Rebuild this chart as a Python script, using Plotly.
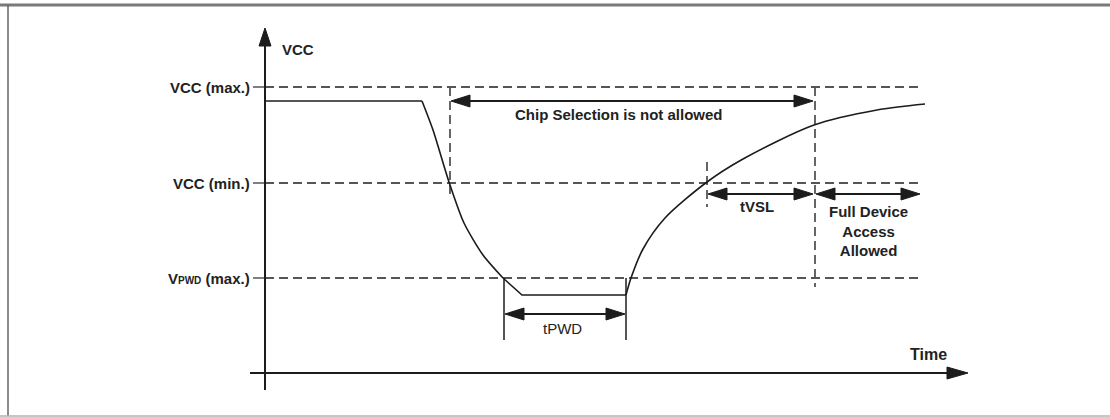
import plotly.graph_objects as go

# ---------------- data (diagram units: time t, voltage v; origin at axes crossing) ----------------
level_names = ["VCC (max.)", "VCC (min.)", "V<span style='font-size:10px'>PWD</span> (max.)"]
level_values = [286, 190, 95]

# supply waveform pieces
steady_t = [0, 157]
steady_v = [272, 272]
fall_t = [157, 168, 184, 199, 218, 238]
fall_v = [272, 243, 191, 150, 118, 95]
floor_t = [238, 257, 361]
floor_v = [95, 78, 78]
rise_t = [361, 366, 378, 400, 442, 478, 549, 612, 660]
rise_v = [78, 95, 124, 155, 191, 214, 248, 263, 269]

# timing markers
t_fall_cross = 185
t_vsl_start = 442
t_access = 550
t_pwd_start = 239
t_pwd_end = 361
t_full_end = 655
t_level_end = 658

arrow_labels = ["Chip Selection is not allowed", "tVSL", "Full Device<br>Access<br>Allowed", "tPWD"]

# ---------------- figure ----------------
INK = "#1c1c1c"
DASH = "#555555"
FONT = "Liberation Sans"
fig = go.Figure()

def seg(x, y, color=INK, width=1.5, dash=None, shape="linear", smoothing=0.8):
    fig.add_trace(go.Scatter(x=x, y=y, mode="lines", hoverinfo="skip", showlegend=False,
                             line=dict(color=color, width=width, dash=dash, shape=shape,
                                       smoothing=smoothing)))

def head(tx, ty, direction, L=19, H=6):
    # filled triangle arrow head with tip at (tx, ty)
    if direction == "right":
        xs, ys = [tx, tx - L, tx - L, tx], [ty, ty + H, ty - H, ty]
    elif direction == "left":
        xs, ys = [tx, tx + L, tx + L, tx], [ty, ty + H, ty - H, ty]
    else:  # up
        xs, ys = [tx, tx - H, tx + H, tx], [ty, ty - L, ty - L, ty]
    fig.add_trace(go.Scatter(x=xs, y=ys, mode="lines", fill="toself", fillcolor=INK,
                             line=dict(color=INK, width=1), hoverinfo="skip", showlegend=False))

def double_arrow(t0, t1, v, width=2):
    seg([t0 + 4, t1 - 4], [v, v], width=width)
    head(t0, v, "left")
    head(t1, v, "right")

# level dashed lines + ticks
for v in level_values:
    seg([-12, 0], [v, v], color=DASH, width=1.5)
    seg([0, t_level_end], [v, v], color=DASH, width=1.8, dash="9px,5px")

# vertical dashed markers
vmax, vmin, vpwd = level_values
seg([t_fall_cross, t_fall_cross], [vmax, vmin - 12], color=DASH, width=1.8, dash="9px,5px")
seg([t_vsl_start, t_vsl_start], [vmin + 21, vmin - 24], color=DASH, width=1.8, dash="9px,5px")
seg([t_access, t_access], [vmax, vpwd - 9], color=DASH, width=1.8, dash="9px,5px")

# tPWD solid verticals
seg([t_pwd_start, t_pwd_start], [vpwd, vpwd - 62], width=1.5)
seg([t_pwd_end, t_pwd_end], [vpwd, vpwd - 62], width=1.5)

# waveform
seg(steady_t, steady_v, width=1.6)
seg(fall_t, fall_v, width=1.6, shape="spline", smoothing=0.7)
seg(floor_t, floor_v, width=1.6)
seg(rise_t, rise_v, width=1.6, shape="spline", smoothing=0.8)

# axes
seg([0, 0], [-17, 330], width=2)
head(0, 345, "up", L=18)
seg([-15, 685], [0, 0], width=2)
head(703, 0, "right", L=21, H=6)

# dimension arrows
double_arrow(t_fall_cross + 1, t_access - 2, steady_v[0])
double_arrow(t_vsl_start + 1, t_access - 2, vmin - 11)
double_arrow(t_access + 1, t_full_end, vmin - 11)
double_arrow(t_pwd_start + 1, t_pwd_end - 1, vpwd - 36)

# text
def label(x, y, text, anchor="center", size=15, bold=True):
    fig.add_annotation(x=x, y=y, text=f"<b>{text}</b>" if bold else text, showarrow=False,
                       xanchor=anchor, yanchor="middle",
                       font=dict(family=FONT, size=size, color="#222222"))

for name, v in zip(level_names, level_values):
    label(-13, v, name, anchor="right")
label(15, 324, "VCC", anchor="left")
label(663, 19, "Time", size=16)
label(354, 259, arrow_labels[0])
label(492, 167, arrow_labels[1])
label(603, 142, arrow_labels[2])
label(297, 45, arrow_labels[3], bold=False)

# frame of the figure
fig.add_shape(type="line", xref="paper", yref="paper", x0=0, x1=1, y0=1 - 5 / 417, y1=1 - 5 / 417,
              line=dict(color="#7a7a7a", width=3))
fig.add_shape(type="line", xref="paper", yref="paper", x0=8 / 1110, x1=8 / 1110, y0=1 / 417, y1=1 - 5 / 417,
              line=dict(color="#666666", width=1.5))
fig.add_shape(type="line", xref="paper", yref="paper", x0=0, x1=1, y0=1 / 417, y1=1 / 417,
              line=dict(color="#b5b5b5", width=1.5))

fig.update_layout(
    width=1110, height=417, margin=dict(l=0, r=0, t=0, b=0),
    paper_bgcolor="white", plot_bgcolor="white", showlegend=False,
    xaxis=dict(range=[-265, 845], visible=False, fixedrange=True),
    yaxis=dict(range=[-44, 373], visible=False, fixedrange=True),
)

fig.write_html("out.html", config={"displayModeBar": False},
               post_script="document.body.style.margin='0';document.body.style.overflow='hidden';")
